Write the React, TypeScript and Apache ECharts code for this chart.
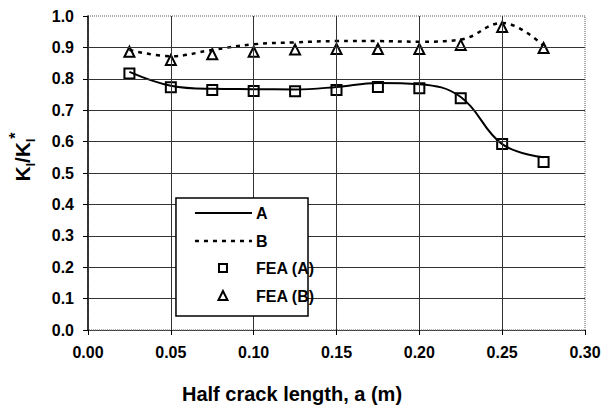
import React, { useEffect, useRef } from "react";
import * as echarts from "echarts";

const FONT = "'Liberation Sans', Arial, sans-serif";

const xTicks = [0, 0.05, 0.1, 0.15, 0.2, 0.25, 0.3];
const yTicks = [0, 0.1, 0.2, 0.3, 0.4, 0.5, 0.6, 0.7, 0.8, 0.9, 1.0];

const xA = [0.025, 0.05, 0.075, 0.1, 0.125, 0.15, 0.175, 0.2, 0.225, 0.25, 0.275];
const lineA = [0.822, 0.778, 0.768, 0.767, 0.766, 0.774, 0.787, 0.783, 0.742, 0.592, 0.55];
const lineB = [0.892, 0.872, 0.892, 0.91, 0.916, 0.92, 0.92, 0.918, 0.925, 0.978, 0.905];
const feaA = [0.817, 0.773, 0.764, 0.761, 0.76, 0.764, 0.774, 0.77, 0.738, 0.592, 0.535];
const feaB = [0.886, 0.86, 0.878, 0.886, 0.893, 0.895, 0.895, 0.895, 0.908, 0.965, 0.898];

const pairs = (ys: number[]) => xA.map((x, i) => [x, ys[i]]);

// legend box in data units (x: m, y: ratio)
const LEG = { x0: 0.0531, x1: 0.1328, y0: 0.0446, y1: 0.42 };

export default function App() {
  const ref = useRef<HTMLDivElement>(null);
  useEffect(() => {
    document.body.style.margin = "0";
    const chart = echarts.init(ref.current!, undefined, { renderer: "svg" });
    const xMin = 0, xMax = 0.3, yMin = 0, yMax = 1;
    const seg = (a: number[], b: number[]) => [{ coord: a }, { coord: b }];
    const markData: any[] = [];
    yTicks.filter((v) => v > yMin && v < yMax).forEach((v) => {
      if (v > LEG.y0 && v < LEG.y1) {
        markData.push(seg([xMin, v], [LEG.x0, v]));
        markData.push(seg([LEG.x1, v], [xMax, v]));
      } else {
        markData.push(seg([xMin, v], [xMax, v]));
      }
    });
    xTicks.filter((u) => u > xMin && u < xMax).forEach((u) => {
      if (u > LEG.x0 && u < LEG.x1) {
        markData.push(seg([u, yMin], [u, LEG.y0]));
        markData.push(seg([u, LEG.y1], [u, yMax]));
      } else {
        markData.push(seg([u, yMin], [u, yMax]));
      }
    });
    const labelStyle = { fontFamily: FONT, fontWeight: "bold" as const, fontSize: 16, color: "#000" };
    const legendText = { fontFamily: FONT, fontWeight: "bold", fontSize: 16, fill: "#000", verticalAlign: "middle" };
    const WHITE = "#ffffff";
    chart.setOption({
      animation: false,
      grid: {
        left: 88,
        right: 20,
        top: 16,
        bottom: 75,
        show: true,
        borderColor: "#555",
        borderWidth: 1,
        borderType: "dotted",
      },
      xAxis: {
        type: "value",
        min: xMin,
        max: xMax,
        interval: 0.05,
        axisLine: { show: true, onZero: false, lineStyle: { color: "#333", type: "dotted", width: 1 } },
        axisTick: { show: true, length: 5, inside: false, lineStyle: { color: "#000" } },
        splitLine: { show: false },
        axisLabel: { ...labelStyle, margin: 14, formatter: (v: number) => v.toFixed(2) },
      },
      yAxis: {
        type: "value",
        min: yMin,
        max: yMax,
        interval: 0.1,
        axisLine: { show: true, lineStyle: { color: "#000", width: 1.5 } },
        axisTick: { show: true, length: 5, lineStyle: { color: "#000" } },
        splitLine: { show: false },
        axisLabel: { ...labelStyle, margin: 14, formatter: (v: number) => v.toFixed(1) },
      },
      series: [
        {
          name: "A",
          type: "line",
          data: pairs(lineA),
          smooth: 0.4,
          symbol: "none",
          lineStyle: { color: "#000", width: 2 },
          markLine: {
            silent: true,
            symbol: "none",
            label: { show: false },
            lineStyle: { color: "#333", width: 1, type: "solid", opacity: 1 },
            data: markData,
          },
        },
        {
          name: "B",
          type: "line",
          data: pairs(lineB),
          smooth: 0.4,
          symbol: "none",
          lineStyle: { color: "#000", width: 2.5, type: [4, 5] },
        },
        {
          name: "FEA (A)",
          type: "scatter",
          data: pairs(feaA),
          symbol: "rect",
          symbolSize: 10,
          itemStyle: { color: WHITE, borderColor: "#000", borderWidth: 2, opacity: 1 },
        },
        {
          name: "FEA (B)",
          type: "scatter",
          data: pairs(feaB),
          symbol: "triangle",
          symbolSize: 10,
          itemStyle: { color: WHITE, borderColor: "#000", borderWidth: 2, opacity: 1 },
        },
      ],
    });
    const [lx0, ly0] = chart.convertToPixel({ gridIndex: 0 }, [LEG.x0, LEG.y1]) as number[];
    const [lx1, ly1] = chart.convertToPixel({ gridIndex: 0 }, [LEG.x1, LEG.y0]) as number[];
    const w = lx1 - lx0;
    const h = ly1 - ly0;
    const rowY = [15, 43, 70, 98].map((d) => ly0 + d * (h / 118));
    const sx0 = lx0 + 19, sx1 = lx0 + 76, tx = lx0 + 80, mx = lx0 + 47;
    chart.setOption({
      graphic: [
        {
          type: "text",
          left: 182,
          top: 384,
          style: { text: "Half crack length, a (m)", fontFamily: FONT, fontWeight: "bold", fontSize: 20, fill: "#000" },
        },
        {
          type: "text",
          x: 22,
          y: 157,
          rotation: Math.PI / 2,
          style: {
            text: "{a|K}{s|I}{a|/K}{s|I}{p|*}",
            align: "center",
            verticalAlign: "middle",
            fill: "#000",
            rich: {
              a: { fontFamily: FONT, fontWeight: "bold", fontSize: 21, lineHeight: 30, verticalAlign: "middle" },
              s: { fontFamily: FONT, fontWeight: "bold", fontSize: 12, lineHeight: 30, verticalAlign: "bottom" },
              p: { fontFamily: FONT, fontWeight: "bold", fontSize: 16, lineHeight: 30, verticalAlign: "top" },
            },
          },
        },
        { type: "rect", z: 100, shape: { x: lx0, y: ly0, width: w, height: h }, style: { fill: WHITE, stroke: "#000", lineWidth: 1.5 } },
        { type: "line", z: 101, shape: { x1: sx0, y1: rowY[0], x2: sx1, y2: rowY[0] }, style: { stroke: "#000", lineWidth: 2 } },
        { type: "text", z: 101, x: tx, y: rowY[0], style: { text: "A", ...legendText } },
        { type: "line", z: 101, shape: { x1: sx0, y1: rowY[1], x2: sx1, y2: rowY[1] }, style: { stroke: "#000", lineWidth: 2.5, lineDash: [4, 5] } },
        { type: "text", z: 101, x: tx, y: rowY[1], style: { text: "B", ...legendText } },
        { type: "rect", z: 101, shape: { x: mx - 4, y: rowY[2] - 4, width: 8, height: 8 }, style: { fill: WHITE, stroke: "#000", lineWidth: 2 } },
        { type: "text", z: 101, x: tx, y: rowY[2], style: { text: "FEA (A)", ...legendText } },
        { type: "polygon", z: 101, shape: { points: [[mx, rowY[3] - 5], [mx - 4.5, rowY[3] + 4], [mx + 4.5, rowY[3] + 4]] }, style: { fill: WHITE, stroke: "#000", lineWidth: 2 } },
        { type: "text", z: 101, x: tx, y: rowY[3], style: { text: "FEA (B)", ...legendText } },
      ],
    });
    return () => chart.dispose();
  }, []);
  return <div ref={ref} style={{ width: 605, height: 405, background: "#fff" }} />;
}
